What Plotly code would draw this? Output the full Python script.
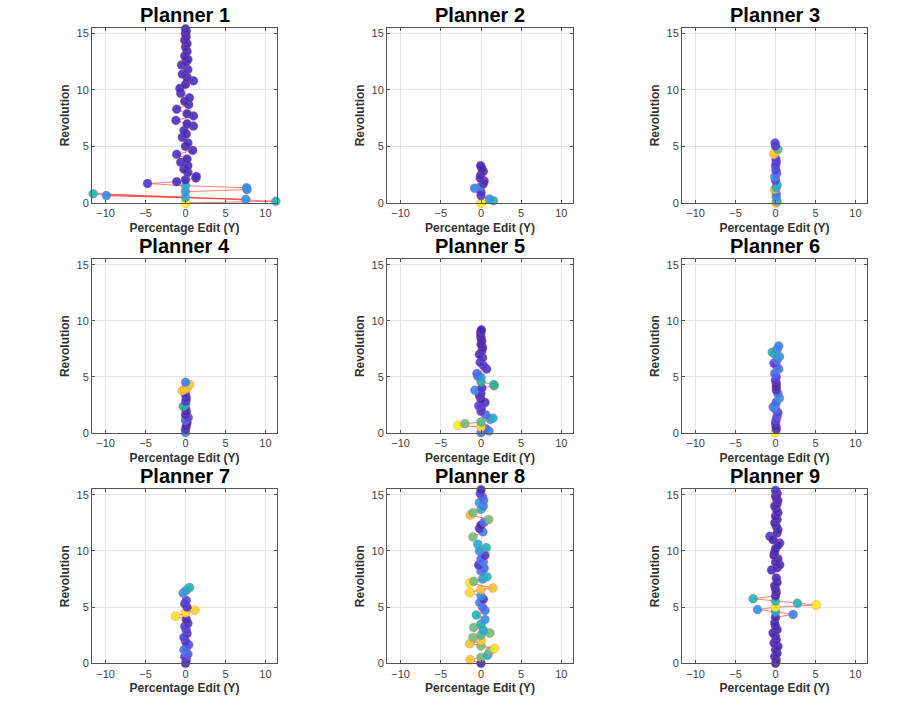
import plotly.graph_objects as go

# Planner trajectories: x = percentage edit (Y), y = revolution, c = colour value (0..1)
p1_x = [0, 11.3, -11.55, 7.55, -9.9, 0, 0, 7.7, 7.65, 0, -4.75, -1.1, 0, 1.3, 1.35, 0.3, -0.2, 0.3, -0.6, 0.2,
        -1.1, 0.9, 0.0, 0.3, -0.4, 0.1, -0.2, 1.0, 0.2, -1.2, 1.0, 0.2, -1.1, 0.4, -0.1, 0.5, -0.6, -0.7, 0.0, 1.0,
        0.2, -0.4, 0.3, -0.5, 0.1, 0.3, -0.1, 0.2, 0.0, 0.2, -0.1, 0.1, 0.0, 0.1, 0.0]
p1_y = [0, 0.15, 0.82, 0.32, 0.65, 0.5, 1.0, 1.18, 1.35, 1.52, 1.72, 1.88, 2.05, 2.2, 2.35, 2.7, 3.0, 3.3, 3.6, 3.9,
        4.3, 4.65, 5.0, 5.3, 5.8, 6.1, 6.4, 6.8, 7.0, 7.3, 7.7, 7.9, 8.3, 8.7, 9.0, 9.3, 9.7, 10.15, 10.5, 10.8,
        11.1, 11.4, 11.8, 12.2, 12.5, 12.7, 13.0, 13.4, 13.8, 14.1, 14.4, 14.7, 15.0, 15.2, 15.4]
p1_c = [1.0, 0.45, 0.45, 0.3, 0.28, 0.42, 0.3, 0.28, 0.3, 0.4, 0.05, 0.02, 0.0, 0.03, 0.03, 0.02, 0.0, 0.02, 0.03, 0.0,
        0.03, 0.02, 0.0, 0.02, 0.03, 0.0, 0.02, 0.03, 0.0, 0.03, 0.02, 0.0, 0.03, 0.02, 0.0, 0.02, 0.03, 0.03, 0.0, 0.02,
        0.0, 0.02, 0.03, 0.03, 0.0, 0.02, 0.0, 0.02, 0.0, 0.02, 0.0, 0.02, 0.0, 0.02, 0.03]

p2_x = [0, 1.55, 1.05, 0.0, 0.0, -0.8, 0.0, 0.3, 0.4, -0.1, -0.05, 0.3, 0.1, -0.05]
p2_y = [0, 0.2, 0.35, 0.65, 0.95, 1.3, 1.47, 1.7, 1.95, 2.2, 2.45, 2.8, 3.05, 3.3]
p2_c = [1.0, 0.45, 0.32, 0.05, 0.05, 0.25, 0.28, 0.05, 0.03, 0.02, 0.03, 0.02, 0.0, 0.0]

p3_x = [0.05, 0.2, 0.1, 0.1, -0.1, 0.1, 0.2, 0.0, -0.1, 0.15, 0.05, 0.0, 0.1, 0.05, -0.2, -0.05, 0.3, 0.0, -0.05]
p3_y = [0.0, 0.15, 0.5, 0.8, 1.2, 1.35, 1.6, 2.0, 2.3, 2.6, 2.9, 3.3, 3.6, 3.9, 4.3, 4.45, 4.75, 5.05, 5.3]
p3_c = [0.85, 0.4, 0.3, 0.25, 0.85, 0.4, 0.4, 0.1, 0.3, 0.2, 0.1, 0.1, 0.05, 0.1, 0.95, 0.9, 0.55, 0.05, 0.08]

p4_x = [0, 0, 0.1, 0.2, 0, 0.35, 0, 0.1, 0, -0.3, 0, 0.05, 0.1, 0, -0.4, -0.1, 0.2, 0.5, 0]
p4_y = [0, 0.3, 0.6, 0.9, 1.1, 1.35, 1.6, 1.9, 2.2, 2.35, 2.5, 2.8, 3.1, 3.4, 3.75, 3.85, 4.0, 4.3, 4.5]
p4_c = [0.25, 0.05, 0.0, 0.0, 0.2, 0.1, 0.0, 0.0, 0.02, 0.5, 0.42, 0.05, 0.02, 0.05, 0.9, 0.88, 0.9, 0.88, 0.25]

p5_x = [0, 1.0, 0.6, 0, -2.85, -2.0, 0, 1.15, 1.5, 0.6, 0, 0.05, -0.3, 0.5, 0, -0.2, 0, -0.75, 0.1, 1.65, 1.6,
        0, 0, -0.4, -0.5, 0.7, 0.3, -0.1, 0.2, -0.2, 0.1, 0.2, 0, 0.1, 0, -0.05, 0, 0.05]
p5_y = [0, 0.15, 0.35, 0.5, 0.65, 0.8, 0.95, 1.2, 1.3, 1.6, 1.9, 2.2, 2.4, 2.7, 3.0, 3.3, 3.5, 3.8, 4.0, 4.2, 4.3,
        4.55, 4.95, 5.05, 5.3, 5.7, 6.0, 6.3, 6.7, 7.0, 7.3, 7.6, 7.9, 8.2, 8.5, 8.8, 9.05, 9.2]
p5_c = [0.2, 0.3, 0.2, 0.95, 1.0, 0.6, 0.55, 0.35, 0.4, 0.2, 0.05, 0.05, 0.1, 0.05, 0.0, 0.05, 0.05, 0.25, 0.05, 0.55, 0.5,
        0.5, 0.4, 0.25, 0.2, 0.05, 0.05, 0.05, 0.05, 0.0, 0.05, 0.0, 0.0, 0.0, 0.0, 0.0, 0.0, 0.0]

p6_x = [0, 0.1, 0.05, 0, 0.1, 0.2, 0.3, 0, -0.3, 0, 0.1, 0.5, 0.3, 0.1, 0.1, 0.1, 0.0, 0.1, -0.1, 0.4, 0.1,
        -0.2, 0.2, 0.5, -0.1, -0.4, 0.2, 0.4]
p6_y = [0, 0.3, 0.6, 0.9, 1.2, 1.5, 1.8, 2.1, 2.3, 2.5, 2.75, 3.1, 3.5, 3.8, 4.1, 4.4, 4.7, 5.0, 5.3, 5.7, 6.0,
        6.2, 6.5, 6.8, 7.0, 7.2, 7.45, 7.75]
p6_c = [1.0, 0.0, 0.0, 0.05, 0.1, 0.15, 0.1, 0.2, 0.25, 0.3, 0.2, 0.35, 0.25, 0.05, 0.0, 0.0, 0.05, 0.1, 0.2, 0.25, 0.2,
        0.1, 0.25, 0.3, 0.35, 0.45, 0.3, 0.25]

p7_x = [0, 0.1, -0.1, 0.3, 0.1, -0.2, 0.1, 0.4, 0.0, -0.2, 0.2, 0.1, -0.1, 0.3, 0.1, -1.25, 0.0, 1.17, 0.2, -0.1,
        0.1, -0.3, 0.1, 0.5]
p7_y = [0, 0.3, 0.6, 0.8, 1.0, 1.2, 1.4, 1.65, 1.95, 2.3, 2.65, 2.95, 3.3, 3.55, 3.9, 4.2, 4.5, 4.73, 5.0, 5.3,
        5.6, 6.25, 6.5, 6.75]
p7_c = [0.0, 0.05, 0.1, 0.15, 0.2, 0.25, 0.2, 0.15, 0.05, 0.1, 0.05, 0.1, 0.1, 0.05, 0.02, 0.95, 0.95, 0.92, 0.05, 0.05,
        0.1, 0.3, 0.35, 0.45]

p8_x = [0, -1.35, 0, 0.83, 1.1, 1.67, 0, -1.4, 0, -1.0, 0, 1.1, 0.3, -0.9, 0, 0.5, -0.58, 0.5, 0.2, -0.17, 0.3,
        0, -1.4, 0, 1.46, -1.4, -0.9, 0.2, 0.75, 0, 0.4, -0.3, 0.3, 0, 0.5, -0.2, 0.67, -0.4, -1.0, 0.25, -0.2,
        0, 0.4, 0.96, -1.33, -1.0, 0, 0.3, -0.2, 0.33, 0.2, -0.1, 0]
p8_y = [0, 0.32, 0.53, 0.73, 1.1, 1.32, 1.55, 1.76, 2.0, 2.3, 2.5, 2.7, 2.95, 3.2, 3.5, 3.9, 4.3, 4.7, 5.0, 5.4, 5.7,
        6.0, 6.3, 6.55, 6.7, 7.15, 7.3, 7.5, 7.7, 8.2, 8.45, 8.75, 9.0, 9.3, 9.6, 10.0, 10.3, 10.6, 11.25, 11.7, 12.0,
        12.3, 12.55, 12.8, 13.2, 13.4, 13.7, 14.0, 14.3, 14.5, 14.8, 15.1, 15.45]
p8_c = [0.0, 0.85, 0.6, 0.45, 0.6, 0.95, 0.6, 0.85, 0.9, 0.6, 0.55, 0.6, 0.4, 0.58, 0.45, 0.3, 0.45, 0.25, 0.2, 0.25, 0.05,
        0.3, 0.95, 0.85, 0.85, 0.98, 0.6, 0.35, 0.45, 0.25, 0.2, 0.05, 0.25, 0.2, 0.05, 0.3, 0.45, 0.4, 0.6, 0.25, 0.05,
        0.0, 0.2, 0.6, 0.85, 0.6, 0.45, 0.25, 0.3, 0.25, 0.2, 0.1, 0.0]

p9_x = [0, 0.1, -0.1, 0.2, 0.0, 0.3, -0.2, 0.1, 0.0, -0.3, 0.2, 0.0, -0.1, 0.0, 2.2, 0, -2.25, 0, 5.1, 2.75, 0,
        -2.8, 0, 0.1, 0.0, -0.1, 0.2, 0.1, -0.5, 0.2, 0.54, 0.0, 0.3, -0.2, -0.1, 0.0, 0.54, 0.3, -0.7, -0.3, 0.2,
        0.3, 0.1, -0.1, 0.2, 0.0, 0.3, 0.1, -0.1, 0.2, 0.3, 0.1, 0.0, 0.2, 0.1, 0.0]
p9_y = [0, 0.3, 0.6, 0.9, 1.2, 1.5, 1.8, 2.1, 2.4, 2.7, 3.0, 3.3, 3.6, 4.1, 4.35, 4.6, 4.78, 5.0, 5.18, 5.35, 5.53,
        5.75, 6.0, 6.3, 6.6, 6.9, 7.2, 7.6, 8.3, 8.5, 8.76, 9.0, 9.3, 9.6, 9.9, 10.2, 10.7, 10.5, 11.3, 11.0, 11.6,
        11.9, 12.2, 12.5, 12.8, 13.1, 13.4, 13.7, 14.0, 14.2, 14.5, 14.7, 14.9, 15.1, 15.25, 15.4]
p9_c = [0.0, 0.0, 0.02, 0.0, 0.02, 0.0, 0.02, 0.0, 0.03, 0.0, 0.02, 0.0, 0.02, 0.0, 0.25, 0.45, 0.3, 1.0, 0.98, 0.45, 0.45,
        0.45, 0.0, 0.02, 0.0, 0.02, 0.0, 0.02, 0.03, 0.0, 0.03, 0.0, 0.02, 0.0, 0.02, 0.0, 0.05, 0.02, 0.05, 0.0, 0.02,
        0.0, 0.02, 0.0, 0.02, 0.0, 0.02, 0.0, 0.02, 0.0, 0.02, 0.0, 0.02, 0.0, 0.02, 0.08]

planners = [(p1_x, p1_y, p1_c), (p2_x, p2_y, p2_c), (p3_x, p3_y, p3_c),
            (p4_x, p4_y, p4_c), (p5_x, p5_y, p5_c), (p6_x, p6_y, p6_c),
            (p7_x, p7_y, p7_c), (p8_x, p8_y, p8_c), (p9_x, p9_y, p9_c)]
titles = ["Planner %d" % i for i in range(1, 10)]

x_ticks = [-10, -5, 0, 5, 10]
y_ticks = [0, 5, 10, 15]

# MATLAB parula-ish colours
parula = [[0.0, "#3c2cb8"], [0.1, "#4847eb"], [0.2, "#3e6fff"], [0.3, "#2796eb"],
          [0.4, "#18b2d5"], [0.5, "#17bca3"], [0.6, "#71bf80"], [0.7, "#b0bd4a"],
          [0.8, "#deba35"], [0.9, "#fccf30"], [1.0, "#f9f215"]]

W, H = 909, 705
col_px = [(92, 277), (387, 573), (682, 867)]
row_px = [(27, 204), (261, 436), (493, 669)]

font = "Liberation Sans, Arial, sans-serif"
fig = go.Figure()
annotations = []

for i, (xs, ys, cs) in enumerate(planners):
    r, c = divmod(i, 3)
    n = i + 1
    xa = "x" if n == 1 else "x%d" % n
    ya = "y" if n == 1 else "y%d" % n
    fig.add_trace(go.Scatter(
        x=xs, y=ys, xaxis=xa, yaxis=ya, mode="lines+markers",
        line=dict(color="rgba(255,40,40,0.75)", width=0.8),
        marker=dict(size=9, color=cs, colorscale=parula, cmin=0, cmax=1, opacity=0.9,
                    line=dict(color="rgba(255,80,80,0.45)", width=0.8)),
        showlegend=False, cliponaxis=False, hoverinfo="x+y",
    ))
    x0, x1 = col_px[c]
    y0, y1 = row_px[r]
    dom_x = [x0 / W, x1 / W]
    dom_y = [1 - y1 / H, 1 - y0 / H]
    key = "" if n == 1 else str(n)
    axis_common = dict(
        showline=True, mirror="ticks", linecolor="#555555", linewidth=1,
        ticks="inside", ticklen=3, tickcolor="#555555",
        showgrid=True, gridcolor="#e4e4e4", gridwidth=1, zeroline=False,
        tickfont=dict(family=font, size=11, color="#444444"),
    )
    fig.update_layout(**{
        "xaxis" + key: dict(axis_common, domain=dom_x, range=[-11.7, 11.45], tickvals=x_ticks,
                            anchor=ya,
                            title=dict(text="<b>Percentage Edit (Y)</b>", standoff=5,
                                       font=dict(family=font, size=12, color="#333333"))),
        "yaxis" + key: dict(axis_common, domain=dom_y, range=[0, 15.5], tickvals=y_ticks,
                            anchor=xa,
                            title=dict(text="<b>Revolution</b>", standoff=4,
                                       font=dict(family=font, size=12, color="#333333"))),
    })
    annotations.append(dict(
        text="<b>%s</b>" % titles[i], x=(dom_x[0] + dom_x[1]) / 2, y=dom_y[1],
        xref="paper", yref="paper", xanchor="center", yanchor="bottom", showarrow=False,
        font=dict(family=font, size=20, color="black"),
    ))

fig.update_layout(
    width=W, height=H,
    margin=dict(l=0, r=0, t=0, b=0),
    paper_bgcolor="white", plot_bgcolor="white",
    annotations=annotations,
)

# drop the browser's default body margin so the figure fills the window
fig.write_html("out.html", config={"displayModeBar": False},
               post_script="document.body.style.margin='0';")
